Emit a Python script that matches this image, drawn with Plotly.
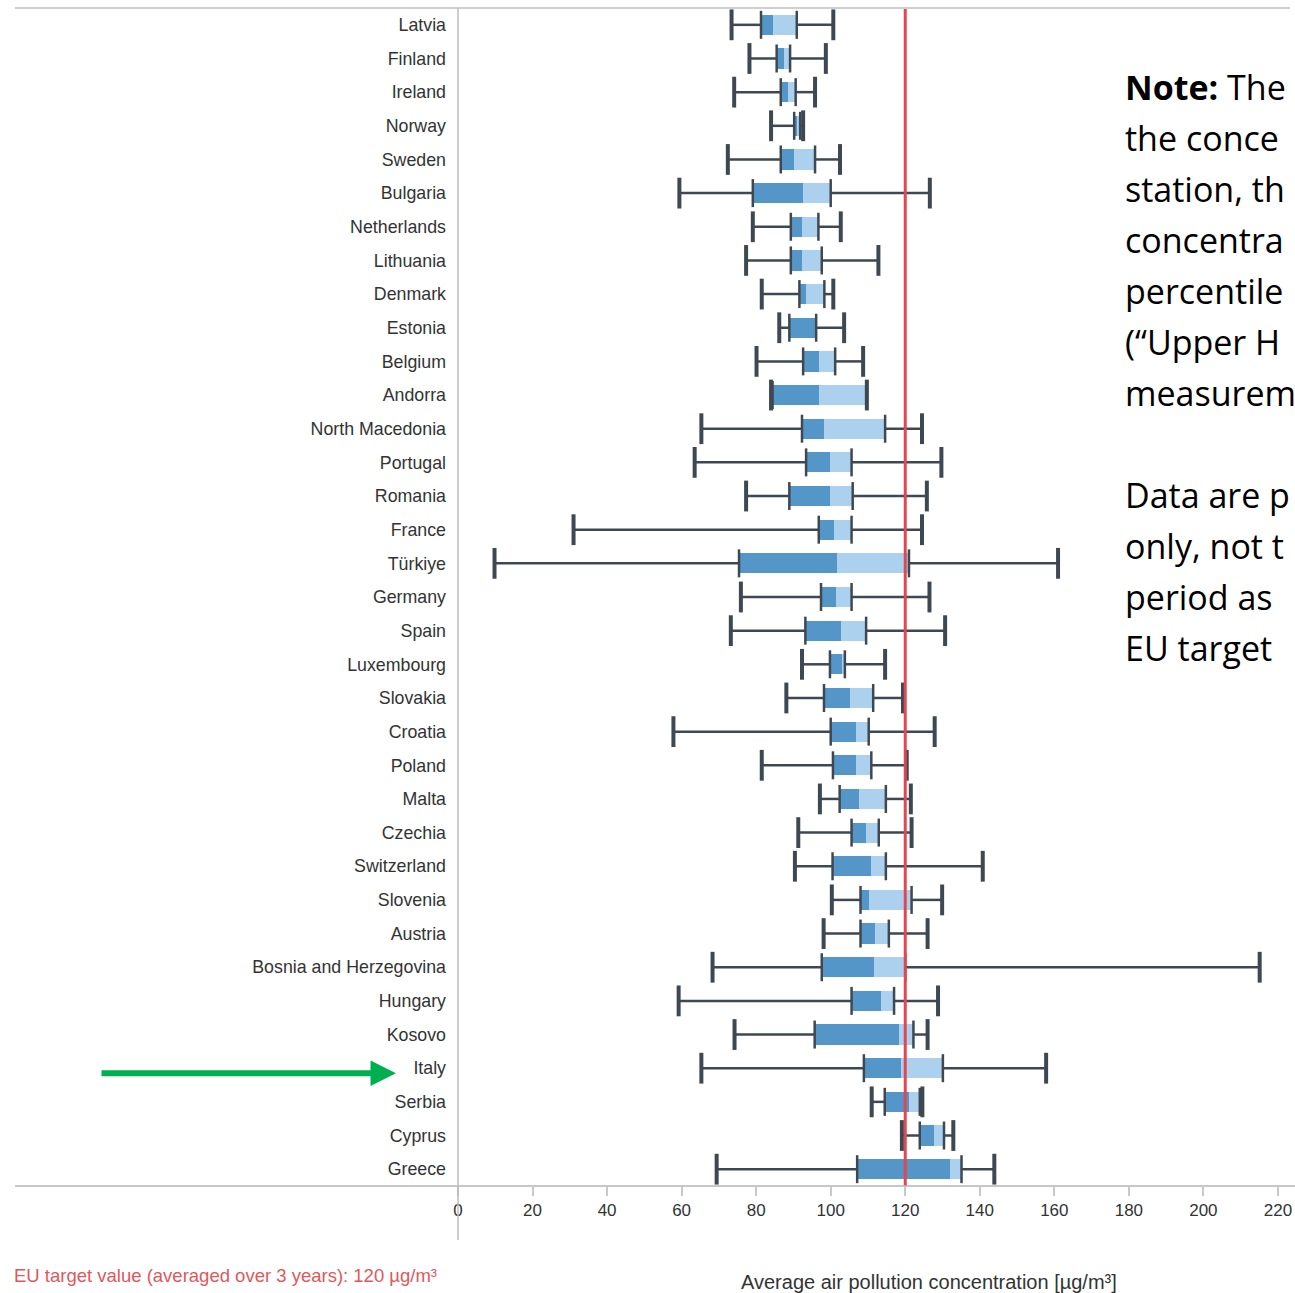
import plotly.graph_objects as go

# ---------------- data ----------------
countries = ["Latvia", "Finland", "Ireland", "Norway", "Sweden", "Bulgaria",
             "Netherlands", "Lithuania", "Denmark", "Estonia", "Belgium",
             "Andorra", "North Macedonia", "Portugal", "Romania", "France",
             "Türkiye", "Germany", "Spain", "Luxembourg", "Slovakia",
             "Croatia", "Poland", "Malta", "Czechia", "Switzerland",
             "Slovenia", "Austria", "Bosnia and Herzegovina", "Hungary",
             "Kosovo", "Italy", "Serbia", "Cyprus", "Greece"]

min_vals = [73.4, 78.2, 74.1, 84.0, 72.4, 59.4, 79.1, 77.3, 81.5, 86.2, 80.1,
            84.0, 65.3, 63.5, 77.3, 31.0, 9.8, 75.9, 73.2, 92.3, 88.1,
            57.8, 81.5, 97.1, 91.3, 90.4, 100.3, 98.1, 68.3, 59.2,
            74.2, 65.3, 111.0, 119.1, 69.4]
q1_vals = [81.3, 85.5, 86.6, 90.2, 86.6, 79.1, 89.3, 89.3, 91.6, 88.9, 92.6,
           84.4, 92.3, 93.4, 88.9, 96.8, 75.4, 97.4, 93.2, 99.8, 98.2,
           100.0, 100.6, 102.4, 105.6, 100.5, 108.0, 108.0, 97.6, 105.6,
           95.7, 108.9, 114.5, 123.9, 107.1]
median_vals = [84.6, 87.6, 88.6, 91.0, 90.2, 92.5, 92.4, 92.4, 93.4, 95.8, 96.9,
               96.9, 98.2, 99.8, 99.8, 100.8, 101.7, 101.4, 102.8, 103.0, 105.1,
               106.7, 106.7, 107.7, 109.6, 110.7, 110.2, 111.8, 111.5, 113.4,
               118.4, 118.9, 121.1, 127.7, 131.9]
q3_vals = [90.9, 89.1, 90.6, 91.8, 95.8, 100.0, 96.7, 97.6, 98.3, 96.1, 101.2,
           109.7, 114.6, 105.6, 105.9, 105.6, 121.0, 105.6, 109.5, 103.8, 111.4,
           110.2, 110.9, 114.8, 112.9, 114.8, 121.7, 115.6, 120.0, 117.0,
           122.2, 130.1, 123.9, 130.4, 135.1]
max_vals = [100.7, 98.7, 95.8, 92.6, 102.5, 126.6, 102.7, 112.8, 100.7, 103.6, 108.7,
            109.7, 124.5, 129.7, 125.8, 124.5, 161.0, 126.5, 130.7, 114.6, 119.4,
            127.9, 120.4, 121.5, 121.7, 140.8, 129.9, 126.0, 215.1, 128.8,
            126.0, 157.8, 124.6, 132.9, 143.9]

eu_target = 120
x_ticks = [0, 20, 40, 60, 80, 100, 120, 140, 160, 180, 200, 220]
highlighted = "Italy"

x_title = "Average air pollution concentration [µg/m³]"
target_label = "EU target value (averaged over 3 years): 120 µg/m³"
# note text as visible in the reference (it is cut by the picture's right edge)
note_lines = ["<b>Note:</b> The", "the conce", "station, th",
              "concentra", "percentile", "(“Upper H", "measurem",
              "", "Data are p", "only, not t", "period as", "EU target"]

# ---------------- styling ----------------
W, H = 1295, 1293
L, R, T, B = 458, 0, 8, 107
PW, PH = W - L - R, H - T - B
DARK = "#3e4852"
BOX_DARK = "#5596c8"
BOX_LIGHT = "#abd1ef"
FONT = "Liberation Sans, Arial, sans-serif"


def px_x(px):
    return (px - L) / PW


def px_y(py):
    return 1 - (py - T) / PH


fig = go.Figure()

# whiskers (min -> Q1, Q3 -> max)
wx, wy = [], []
for c, mn, a, b, mx in zip(countries, min_vals, q1_vals, q3_vals, max_vals):
    wx += [mn, a, None, b, mx, None]
    wy += [c, c, None, c, c, None]
fig.add_trace(go.Scatter(x=wx, y=wy, mode="lines",
                         line=dict(color=DARK, width=2.5),
                         hoverinfo="skip", showlegend=False))

# box: Q1 -> median (dark), median -> Q3 (light)
fig.add_trace(go.Bar(y=countries, base=q1_vals,
                     x=[m - a for m, a in zip(median_vals, q1_vals)],
                     orientation="h", width=0.6,
                     marker=dict(color=BOX_DARK, line=dict(width=0)),
                     showlegend=False, name="Q1–median"))
fig.add_trace(go.Bar(y=countries, base=median_vals,
                     x=[b - m for b, m in zip(q3_vals, median_vals)],
                     orientation="h", width=0.6,
                     marker=dict(color=BOX_LIGHT, line=dict(width=0)),
                     showlegend=False, name="median–Q3"))

# hinge marks at Q1 / Q3
fig.add_trace(go.Scatter(x=q1_vals + q3_vals, y=countries + countries,
                         mode="markers",
                         marker=dict(symbol="line-ns", size=20,
                                     line=dict(color=DARK, width=2.5)),
                         hoverinfo="skip", showlegend=False))
# whisker caps
fig.add_trace(go.Scatter(x=min_vals + max_vals, y=countries + countries,
                         mode="markers",
                         marker=dict(symbol="line-ns", size=22,
                                     line=dict(color=DARK, width=4)),
                         hoverinfo="skip", showlegend=False))

shapes = [
    # EU target line
    dict(type="line", xref="x", yref="paper", x0=eu_target, x1=eu_target,
         y0=0, y1=1, line=dict(color="#e2474d", width=3), layer="above"),
    # top border
    dict(type="line", xref="paper", yref="paper", x0=px_x(15), x1=px_x(1290),
         y0=1, y1=1, line=dict(color="#cfcfcf", width=2)),
    # bottom axis line
    dict(type="line", xref="paper", yref="paper", x0=px_x(15), x1=1,
         y0=0, y1=0, line=dict(color="#b5b5b5", width=1.5)),
    # vertical axis line
    dict(type="line", xref="paper", yref="paper", x0=0, x1=0,
         y0=px_y(1240), y1=1, line=dict(color="#bdbdbd", width=1.5)),
]

annotations = [
    dict(text=x_title, xref="paper", yref="paper", x=px_x(929), y=px_y(1282),
         xanchor="center", yanchor="middle", showarrow=False,
         font=dict(family=FONT, size=20, color="#333333")),
    dict(text=target_label, xref="paper", yref="paper", x=px_x(12), y=px_y(1275),
         xanchor="left", yanchor="middle", showarrow=False,
         font=dict(family=FONT, size=18.5, color="#e0585c")),
    dict(text="", xref="paper", yref="y", x=px_x(396), y=highlighted,
         ax=-296, ay=0, showarrow=True, arrowhead=2, arrowsize=0.85,
         arrowwidth=6, arrowcolor="#00b050", standoff=0, yshift=-5),
]
note_y0, note_dy = 87, 51
for i, line in enumerate(note_lines):
    if not line:
        continue
    annotations.append(dict(text=line, xref="paper", yref="paper",
                            x=px_x(1123), y=px_y(note_y0 + i * note_dy),
                            xanchor="left", yanchor="middle", showarrow=False,
                            font=dict(family="Open Sans, sans-serif", size=34,
                                      color="#000000")))

fig.update_layout(
    width=W, height=H,
    margin=dict(l=L, r=R, t=T, b=B, pad=0),
    paper_bgcolor="white", plot_bgcolor="white",
    barmode="overlay", bargap=0,
    shapes=shapes, annotations=annotations,
    xaxis=dict(range=[0, PW / 3.727], tickvals=x_ticks, showgrid=False,
               zeroline=False, showline=False, ticks="outside", ticklen=9,
               tickcolor="#c8c8c8", tickwidth=1.5,
               tickfont=dict(family=FONT, size=17, color="#333333")),
    yaxis=dict(type="category", categoryorder="array", categoryarray=countries,
               range=[len(countries) - 0.5, -0.5], showgrid=False,
               zeroline=False, showline=False, ticks="", ticklabelstandoff=11,
               tickfont=dict(family=FONT, size=17.8, color="#333333")),
    showlegend=False,
)

fig.write_html("out.html", config={"displayModeBar": False},
               post_script="document.body.style.margin='0';"
                           "document.body.style.overflow='hidden';")
